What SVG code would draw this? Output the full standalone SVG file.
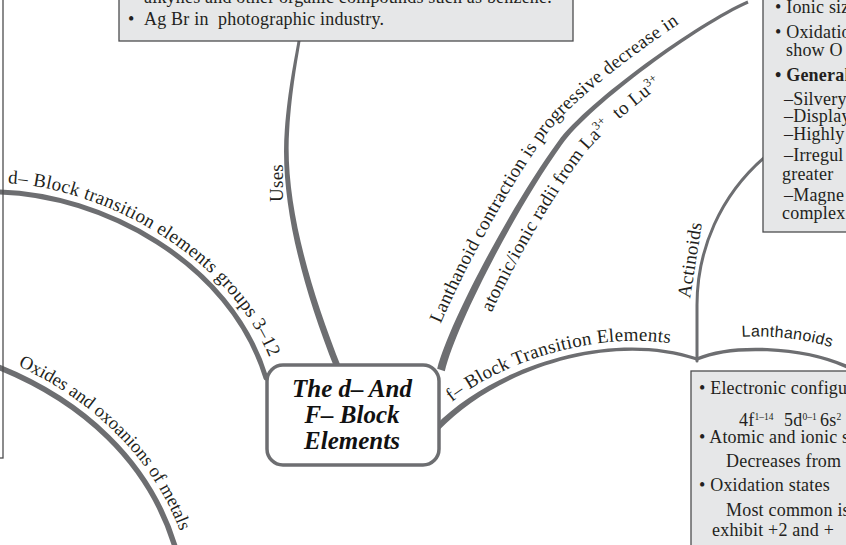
<svg xmlns="http://www.w3.org/2000/svg" width="846" height="545" viewBox="0 0 846 545">
<style>
  .box { fill: #e6e7e8; stroke: #4d4d4f; stroke-width: 1.3; }
  .txt { font-family: "Liberation Serif", "Times New Roman", serif; font-size: 18px; fill: #231f20; letter-spacing: 0.2px; }
  .b { font-weight: bold; }
  .sup { font-size: 9.5px; letter-spacing: 0; }
  .lbl { font-family: "Liberation Serif", "Times New Roman", serif; font-size: 19px; fill: #231f20; letter-spacing: 0.3px; }
  .tight { letter-spacing: 0; font-size: 18.5px; }
  .lbl-sans { font-family: "Liberation Sans", Arial, sans-serif; font-size: 16px; fill: #231f20; letter-spacing: 0.3px; }
  .wire { fill: none; stroke: #6d6e71; stroke-linecap: round; }
  .taper { fill: #6d6e71; }
  .title { font-family: "Liberation Serif", "Times New Roman", serif; font-style: italic; font-weight: bold; font-size: 25px; fill: #111; text-anchor: middle; }
  .frame { fill: #fff; stroke: #6d6e71; stroke-width: 3.5; }
</style>
<defs>
  <!-- baselines for the branch labels, offset from the branch centrelines -->
  <path id="p-dblock" d="M 3 183 C 100.3 186, 238.6 257.3, 274.6 372.3"/>
  <path id="p-oxides" d="M 3.3 359.6 C 83.3 391.6, 158.6 457.5, 184.6 545.5"/>
  <path id="p-lc-out" d="M 425.6 365.4 C 437.6 317.4, 502 195.6, 547 133.6 C 577 92.6, 691.6 9.4, 741.6 -12.6"/>
  <path id="p-lc-in" d="M 466 377.5 C 478 329.5, 536.1 220.3, 581.1 158.3 C 611.1 117.3, 708.4 47.8, 758.4 25.8"/>
  <path id="p-fblock" d="M 435.5 416.8 C 488.5 361.8, 612.9 321.5, 699.9 350.5"/>
  <path id="p-lanth" d="M 697 346 C 730 332, 800 332, 852 355"/>
</defs>

<g id="connectors">
  <!-- Uses -->
  <path class="taper" d="M 334.5 368 C 301.5 285, 279.5 200, 284.8 130 C 288.1 88, 294.4 60, 297.5 41 L 300.5 41 C 297.6 60, 291.9 88, 289.2 130 C 284.5 200, 308.5 285, 341.5 368 Z"/>
  <!-- d-block transition elements -->
  <path class="wire" stroke-width="5" d="M 0 192 C 100 195, 230 260, 266 378"/>
  <!-- oxides and oxoanions -->
  <path class="wire" stroke-width="5.5" d="M -2 367 C 80 400, 150 460, 176 550"/>
  <!-- lanthanoid contraction -->
  <path class="taper" d="M 444.8 371.2 C 456.6 323.1, 517.3 206.7, 562 144.5 C 591.8 103.3, 698.6 25.5, 748.6 3.4 L 747.4 0.6 C 697.4 22.5, 588.2 100.7, 558 141.5 C 512.7 203.3, 449.4 320.9, 437.2 368.8 Z"/>
  <!-- f-block transition elements -->
  <path class="taper" d="M 434.8 425.9 C 493.1 366.2, 610.6 328.3, 697.5 357.5 L 696.5 360.5 C 609.4 331.7, 496.9 369.8, 439.2 430.1 Z"/>
  <!-- actinoids -->
  <path class="wire" stroke-width="3" d="M 697 361 L 697 305 C 697 250, 720 195, 766 156"/>
  <!-- lanthanoids -->
  <path class="wire" stroke-width="3.5" d="M 697 359 C 730 345, 800 345, 850 368"/>

  <text class="lbl" transform="translate(283,183) rotate(-90)" text-anchor="middle">Uses</text>
  <text class="lbl"><textPath href="#p-dblock" startOffset="5">d– Block transition elements groups 3–12</textPath></text>
  <text class="lbl tight"><textPath href="#p-oxides" startOffset="16">Oxides and oxoanions of metals</textPath></text>
  <text class="lbl"><textPath href="#p-lc-out" startOffset="44">Lanthanoid contraction is progressive decrease in</textPath></text>
  <text class="lbl"><textPath href="#p-lc-in" startOffset="70">atomic/ionic radii from La<tspan dy="-7" font-size="12">3+</tspan><tspan dy="7">&#160; to Lu</tspan><tspan dy="-7" font-size="12">3+</tspan></textPath></text>
  <text class="lbl"><textPath href="#p-fblock" startOffset="22">f– Block Transition Elements</textPath></text>
  <text class="lbl" font-size="17" transform="translate(696,261) rotate(-81)" text-anchor="middle">Actinoids</text>
  <text class="lbl-sans"><textPath href="#p-lanth" startOffset="46">Lanthanoids</textPath></text>
</g>

<g id="node-left">
  <rect class="box" x="-100" y="-5" width="103" height="463" style="fill:none"/>
</g>

<g id="node-uses">
  <rect class="box" x="119" y="-5" width="454" height="46"/>
  <text class="txt" x="144" y="3">alkynes and other organic compounds such as benzene.</text>
  <text class="txt" x="128" y="25">•</text>
  <text class="txt" x="144" y="25">Ag Br in&#160; photographic industry.</text>
</g>

<g id="node-actinoids">
  <rect class="box" x="763" y="-5" width="100" height="237"/>
  <text class="txt" x="775" y="13">• Ionic siz</text>
  <text class="txt" x="775" y="38">• Oxidatio</text>
  <text class="txt" x="786" y="56">show O</text>
  <text class="txt b" x="775" y="81">• General</text>
  <text class="txt" x="784" y="105">–Silvery</text>
  <text class="txt" x="784" y="122">–Display</text>
  <text class="txt" x="784" y="140">–Highly</text>
  <text class="txt" x="784" y="161">–Irregul</text>
  <text class="txt" x="782" y="180">greater</text>
  <text class="txt" x="784" y="201">–Magne</text>
  <text class="txt" x="782" y="219">complex</text>
</g>

<g id="node-lanthanoids">
  <rect class="box" x="691" y="371" width="200" height="200"/>
  <text class="txt" x="699" y="394">• Electronic configu</text>
  <text class="txt" y="426"><tspan x="739">4f</tspan><tspan class="sup" dy="-6">1–14</tspan><tspan x="784" dy="6">5d</tspan><tspan class="sup" dy="-6">0–1</tspan><tspan x="820" dy="6">6s</tspan><tspan class="sup" dy="-6">2</tspan></text>
  <text class="txt" x="699" y="443">• Atomic and ionic s</text>
  <text class="txt" x="726" y="467">Decreases from L</text>
  <text class="txt" x="699" y="491">• Oxidation states</text>
  <text class="txt" x="726" y="516">Most common is</text>
  <text class="txt" x="712" y="536">exhibit +2 and +</text>
</g>

<g id="node-center">
  <rect class="frame" x="267" y="365" width="172" height="100" rx="16"/>
  <text class="title" x="352" y="397">The d– And</text>
  <text class="title" x="352" y="423">F– Block</text>
  <text class="title" x="352" y="449">Elements</text>
</g>
</svg>
